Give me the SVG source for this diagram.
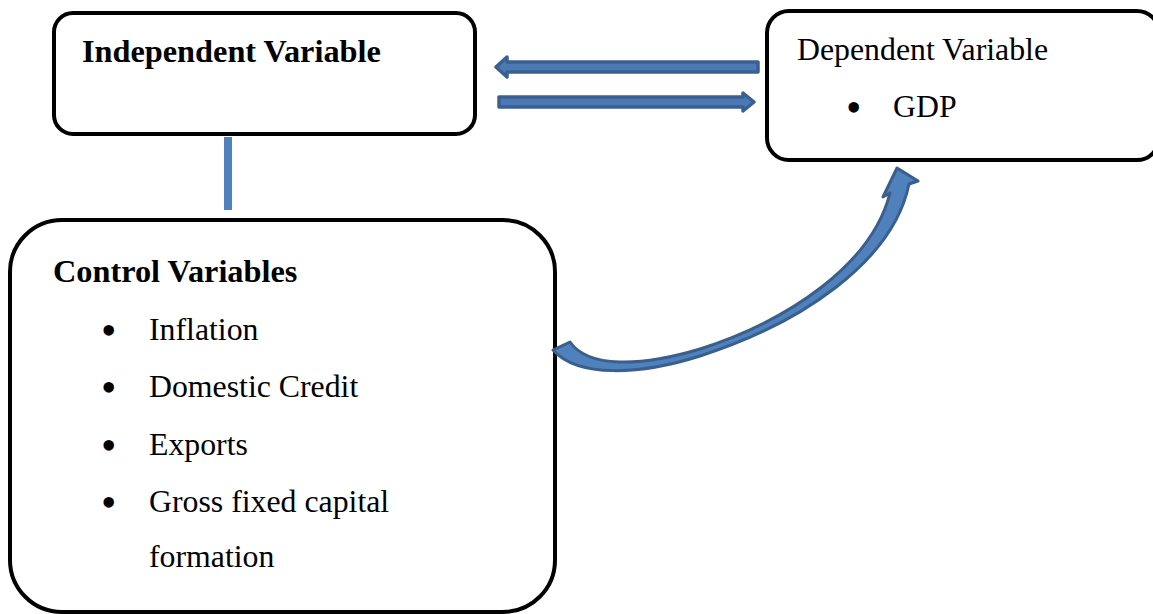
<svg xmlns="http://www.w3.org/2000/svg" width="1153" height="614" viewBox="0 0 1153 614">
<style>
.box{fill:#fff;stroke:#000;stroke-width:4}
.t{font-family:"Liberation Serif","Times New Roman",serif;font-size:31.8px;fill:#000}
.b{font-weight:bold;font-size:32.3px}
.bul{font-family:"Liberation Serif","Times New Roman",serif;font-size:44px;fill:#000}
.arr{fill:#4F81BD;stroke:#3A5F8C;stroke-width:3;stroke-linejoin:round}
.sarr{fill:#4A7AB4;stroke:#3B6090;stroke-width:3.5;stroke-linejoin:round}
</style>
<rect width="1153" height="614" fill="#fff"/>
<g id="independent">
<rect class="box" x="54" y="13" width="421" height="121" rx="19"/>
<text class="t b" x="82" y="62">Independent Variable</text>
</g>
<g id="dependent">
<rect class="box" x="767" y="11" width="392" height="149" rx="22"/>
<text class="t" x="797" y="60">Dependent Variable</text>
<text class="bul" x="846" y="122">•</text>
<text class="t" x="893" y="117">GDP</text>
</g>
<g id="control">
<rect class="box" x="10" y="220" width="545" height="392" rx="52"/>
<text class="t b" x="53" y="282">Control Variables</text>
<text class="bul" x="101" y="345">•</text>
<text class="t" x="149" y="340">Inflation</text>
<text class="bul" x="101" y="402">•</text>
<text class="t" x="149" y="397">Domestic Credit</text>
<text class="bul" x="101" y="460">•</text>
<text class="t" x="149" y="455">Exports</text>
<text class="bul" x="101" y="517">•</text>
<text class="t" x="149" y="512">Gross fixed capital</text>
<text class="t" x="149" y="567">formation</text>
</g>
<g id="connectors">
<rect x="224" y="137" width="8" height="73" fill="#4F81BD"/>
<path class="sarr" d="M758,62 L507,62 L507,57 L496,67 L507,77 L507,72 L758,72 Z"/>
<path class="sarr" d="M499,97 L743,97 L743,93 L754,102 L743,111 L743,107 L499,107 Z"/>
<path class="arr" d="M553,350 L570,342 C588,368 640,367 700,349 C790,320 872,264 890,193 L883,197 L897,168 L918,181 L909,184 C893,262 800,324 700,356 C640,375 578,378 553,350 Z"/>
</g>
</svg>
